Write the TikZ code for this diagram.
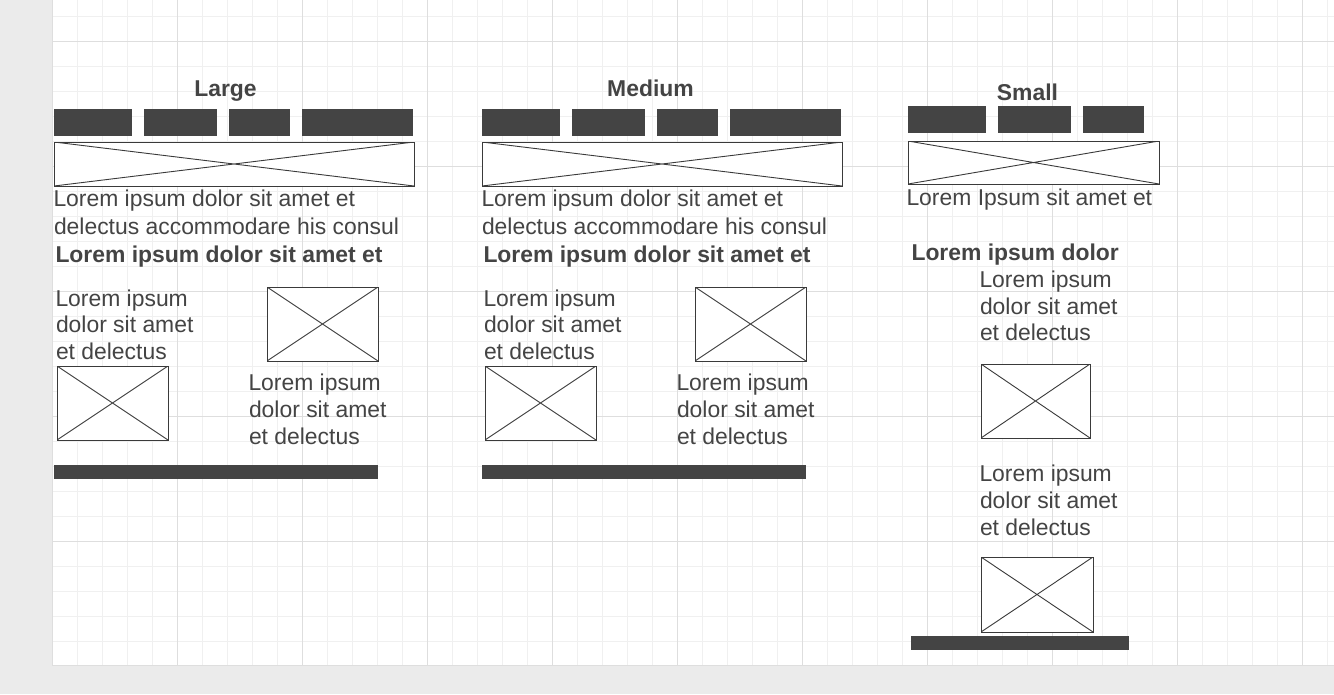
\documentclass[tikz,border=0pt]{standalone}
\usepackage{fontspec}
\setmainfont{Liberation Sans}
\definecolor{ink}{HTML}{444444}
\definecolor{bgc}{HTML}{EBEBEB}
\definecolor{gminor}{HTML}{F0F0F0}
\definecolor{gmajor}{HTML}{DEDEDE}
\definecolor{edgec}{HTML}{3A3A3A}
\tikzset{
  txt/.style={anchor=base west, inner sep=0, outer sep=0, text=ink, font=\fontsize{22.9}{27}\selectfont},
  btxt/.style={txt, font=\fontsize{22.9}{27}\selectfont\bfseries},
  ttl/.style={anchor=base, inner sep=0, outer sep=0, text=ink, font=\fontsize{22.9}{27}\selectfont\bfseries},
  bar/.style={fill=ink, draw=none, inner sep=0, outer sep=0, anchor=north west},
  ph/.style={draw=edgec, line width=1pt, fill=white, inner sep=0, outer sep=0, anchor=north west,
    path picture={\draw[edgec, line width=0.9pt]
      (path picture bounding box.north west) -- (path picture bounding box.south east)
      (path picture bounding box.north east) -- (path picture bounding box.south west);}},
}
\begin{document}
\begin{tikzpicture}[x=1pt, y=-1pt]
\useasboundingbox (0,0) rectangle (1334,694);
\fill[bgc] (0,0) rectangle (1334,694);
\fill[white] (52,0) rectangle (1334,666);
% grid
\foreach \x in {77,102,...,1327} \draw[gminor, line width=1pt] (\x,0) -- (\x,666);
\foreach \y in {16,41,...,641} \draw[gminor, line width=1pt] (52,\y) -- (1334,\y);
\foreach \x in {177,302,...,1302} \draw[gmajor, line width=1pt] (\x,0) -- (\x,666);
\foreach \y in {41,166,...,541} \draw[gmajor, line width=1pt] (52,\y) -- (1334,\y);
\draw[gmajor, line width=1pt] (52.5,0) -- (52.5,665.5) -- (1334,665.5);

% titles
\node[ttl] (tL) at (225.5,96.7) {Large};
\node[ttl] (tM) at (650.5,96.7) {Medium};
\node[ttl] (tS) at (1027.5,100.7) {Small};

% Large and Medium columns
\foreach \dx/\c in {0/L,428/M} {
  \node[bar, minimum width=78pt, minimum height=27pt] (\c-n1) at ({54+\dx},109) {};
  \node[bar, minimum width=73pt, minimum height=27pt] (\c-n2) at ({144+\dx},109) {};
  \node[bar, minimum width=61pt, minimum height=27pt] (\c-n3) at ({229+\dx},109) {};
  \node[bar, minimum width=111pt, minimum height=27pt] (\c-n4) at ({302+\dx},109) {};
  \node[ph, minimum width=360pt, minimum height=44pt] (\c-hero) at ({54+\dx},142) {};
  \node[txt] (\c-p1) at ({53.5+\dx},206.7) {Lorem ipsum dolor sit amet et};
  \node[txt] (\c-p2) at ({54+\dx},234) {delectus accommodare his consul};
  \node[btxt] (\c-b) at ({55.5+\dx},262.3) {Lorem ipsum dolor sit amet et};
  \node[txt] (\c-a1) at ({55.5+\dx},306) {Lorem ipsum};
  \node[txt] (\c-a2) at ({56+\dx},332.7) {dolor sit amet};
  \node[txt] (\c-a3) at ({56+\dx},359.3) {et delectus};
  \node[ph, minimum width=111pt, minimum height=74pt] (\c-i1) at ({57+\dx},366) {};
  \node[ph, minimum width=111pt, minimum height=74pt] (\c-i2) at ({267+\dx},287) {};
  \node[txt] (\c-c1) at ({248.5+\dx},390.7) {Lorem ipsum};
  \node[txt] (\c-c2) at ({249+\dx},417.3) {dolor sit amet};
  \node[txt] (\c-c3) at ({249+\dx},444.3) {et delectus};
  \node[bar, minimum width=324pt, minimum height=14pt] (\c-foot) at ({54+\dx},465) {};
}

% Small column
\node[bar, minimum width=78pt, minimum height=27pt] (S-n1) at (908,106) {};
\node[bar, minimum width=73pt, minimum height=27pt] (S-n2) at (998,106) {};
\node[bar, minimum width=61pt, minimum height=27pt] (S-n3) at (1083,106) {};
\node[ph, minimum width=251pt, minimum height=43pt] (S-hero) at (908,141) {};
\node[txt] (S-p1) at (906.5,205) {Lorem Ipsum sit amet et};
\node[btxt] (S-b) at (911.5,260.7) {Lorem ipsum dolor};
\node[txt] (S-a1) at (979.5,287.3) {Lorem ipsum};
\node[txt] (S-a2) at (980,314) {dolor sit amet};
\node[txt] (S-a3) at (980,340.5) {et delectus};
\node[ph, minimum width=109pt, minimum height=74pt] (S-i1) at (981,364) {};
\node[txt] (S-c1) at (979.5,481) {Lorem ipsum};
\node[txt] (S-c2) at (980,508) {dolor sit amet};
\node[txt] (S-c3) at (980,535) {et delectus};
\node[ph, minimum width=112pt, minimum height=75pt] (S-i2) at (981,557) {};
\node[bar, minimum width=218pt, minimum height=14pt] (S-foot) at (911,636) {};
\end{tikzpicture}
\end{document}
